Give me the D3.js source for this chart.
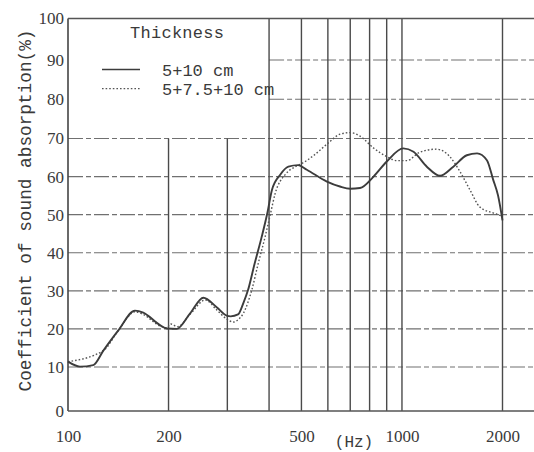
<!DOCTYPE html>
<html>
<head>
<meta charset="utf-8">
<script src="https://cdn.jsdelivr.net/npm/d3@7"></script>
<style>
  body { margin: 0; background: #fff; }
  svg { display: block; }
</style>
</head>
<body>
<div id="chart"></div>
<script>
// values: frequency (Hz) and absorption (%)
const freqSolid = [100, 108.6, 119, 127.6, 141.5, 158.7, 168, 188.5, 197.6, 211.6, 231.8, 254.3, 278.7, 298.6, 307, 323, 335, 346, 362, 380, 395, 408, 432, 457, 489, 519, 596, 652, 700, 749, 822, 899, 1009, 1083, 1187, 1300, 1425, 1564, 1678, 1796, 1875, 1940, 2000];
const valSolid  = [11.4, 10.1, 10.5, 14.3, 19.6, 24.8, 24.3, 21, 20.1, 20, 24, 28.2, 25.7, 23.5, 23.3, 23.8, 26.8, 30.2, 37.1, 44.1, 50.3, 56.5, 60.5, 62.6, 63, 61.8, 58.7, 57.4, 56.8, 57, 60, 63.9, 67.4, 66.5, 62.6, 60.2, 62.6, 65.6, 66.1, 64.3, 59.2, 55, 48.5];

const freqDotted = [100, 127.6, 141.5, 158.7, 168, 188.5, 197.6, 203, 213, 231.8, 258, 278.7, 298.6, 313, 324, 335, 355, 371, 389, 404, 417, 449, 479, 495, 520, 545, 605, 652, 700, 749, 822, 899, 965, 1035, 1130, 1267, 1389, 1492, 1596, 1711, 1882, 1968, 2000];
const valDotted  = [11.4, 14.3, 19.6, 24.5, 23.8, 20.8, 20.3, 21.3, 20.6, 23.8, 27.6, 25, 22.6, 21.8, 22.5, 24.1, 30.2, 37.1, 44.1, 50.3, 55.5, 60.7, 62.6, 63.2, 64.3, 65.6, 69, 71.1, 71.5, 70.6, 67.5, 65.3, 64.2, 64.2, 66.4, 67.2, 65.3, 61.3, 56.6, 52, 50.4, 49.8, 49.5];

const xTicks = [100, 200, 500, 1000, 2000];
const yTicks = [0, 10, 20, 30, 40, 50, 60, 70, 80, 90, 100];
const gridShort = [200, 300];                 // stop at 70 (legend box above)
const gridFull = [400, 500, 600, 700, 800, 900, 1000, 2000];
const seriesNames = ["5+10 cm", "5+7.5+10 cm"];

const width = 534, height = 452;
const ink = "#3a3a3a";

const svg = d3.select("#chart").append("svg")
    .attr("width", width)
    .attr("height", height);

// log frequency axis, slightly uneven value axis as in the scan
const x = d3.scaleLog().domain([100, 2000]).range([68, 502.5]);
const y = d3.scaleLinear().domain([0, 10, 70, 90, 100]).range([411, 367, 138.5, 60, 18.5]);

// horizontal dashed grid
const hGrid = [10, 20, 30, 40, 50, 60, 70, 80, 90];
svg.append("g").selectAll("line")
    .data(hGrid)
    .enter().append("line")
    .attr("x1", d => d >= 80 ? x(400) : x(100))
    .attr("x2", width)
    .attr("y1", d => y(d))
    .attr("y2", d => y(d))
    .attr("stroke", "#707070")
    .attr("stroke-width", 1.1)
    .attr("stroke-dasharray", "15,3,5,3");

// vertical grid
svg.append("g").selectAll("line")
    .data(gridShort.concat(gridFull))
    .enter().append("line")
    .attr("x1", d => x(d))
    .attr("x2", d => x(d))
    .attr("y1", y(0))
    .attr("y2", d => gridShort.includes(d) ? y(70) : y(100))
    .attr("stroke", "#4a4a4a")
    .attr("stroke-width", 1.4);

// frame: left, bottom, top
svg.append("line")
    .attr("x1", x(100)).attr("x2", x(100))
    .attr("y1", y(0)).attr("y2", y(100))
    .attr("stroke", "#444").attr("stroke-width", 1.6);
[0, 100].forEach(v => {
    svg.append("line")
        .attr("x1", x(100)).attr("x2", width)
        .attr("y1", y(v)).attr("y2", y(v))
        .attr("stroke", "#555").attr("stroke-width", 1.5);
});

// tick labels
const yAxis = svg.append("g")
    .attr("transform", `translate(${x(100)},0)`)
    .call(d3.axisLeft(y).tickValues(yTicks).tickSize(0).tickPadding(4));
const xAxis = svg.append("g")
    .attr("transform", `translate(0,${y(0)})`)
    .call(d3.axisBottom(x).tickValues(xTicks).tickFormat(d3.format("d")).tickSize(0).tickPadding(19));
[yAxis, xAxis].forEach(g => {
    g.select(".domain").remove();
    g.selectAll("text")
        .attr("font-family", "'Liberation Serif', serif")
        .attr("font-size", 17)
        .attr("fill", ink);
});

svg.append("text")
    .attr("x", 354)
    .attr("y", 447)
    .attr("text-anchor", "middle")
    .attr("font-family", "'Liberation Mono', monospace")
    .attr("font-size", 16)
    .attr("fill", ink)
    .text("(Hz)");

svg.append("text")
    .attr("transform", "translate(31,210.5) rotate(-90)")
    .attr("text-anchor", "middle")
    .attr("font-family", "'Liberation Mono', monospace")
    .attr("font-size", 18)
    .attr("textLength", 362)
    .attr("lengthAdjust", "spacingAndGlyphs")
    .attr("fill", ink)
    .text("Coefficient of sound absorption(%)");

// curves
const line = d3.line()
    .x(d => x(d[0]))
    .y(d => y(d[1]))
    .curve(d3.curveMonotoneX);

svg.append("path")
    .datum(d3.zip(freqDotted, valDotted))
    .attr("d", line)
    .attr("fill", "none")
    .attr("stroke", "#555")
    .attr("stroke-width", 1.4)
    .attr("stroke-dasharray", "1.6,2");

svg.append("path")
    .datum(d3.zip(freqSolid, valSolid))
    .attr("d", line)
    .attr("fill", "none")
    .attr("stroke", "#3c3c3c")
    .attr("stroke-width", 1.9);

// legend
svg.append("text")
    .attr("x", 177)
    .attr("y", 38)
    .attr("text-anchor", "middle")
    .attr("font-family", "'Liberation Mono', monospace")
    .attr("font-size", 17)
    .attr("textLength", 94)
    .attr("fill", ink)
    .text("Thickness");

const legend = svg.append("g").selectAll("g")
    .data(seriesNames)
    .enter().append("g")
    .attr("transform", (d, i) => `translate(0,${69.5 + i * 19.2})`);

legend.append("line")
    .attr("x1", 102).attr("x2", 140)
    .attr("stroke", (d, i) => i === 0 ? "#3c3c3c" : "#555")
    .attr("stroke-width", (d, i) => i === 0 ? 1.3 : 1.2)
    .attr("stroke-dasharray", (d, i) => i === 0 ? null : "1.6,2");

legend.append("text")
    .attr("x", 162)
    .attr("y", 6.5)
    .attr("font-family", "'Liberation Mono', monospace")
    .attr("font-size", 17)
    .attr("fill", ink)
    .text(d => d);
</script>
</body>
</html>
